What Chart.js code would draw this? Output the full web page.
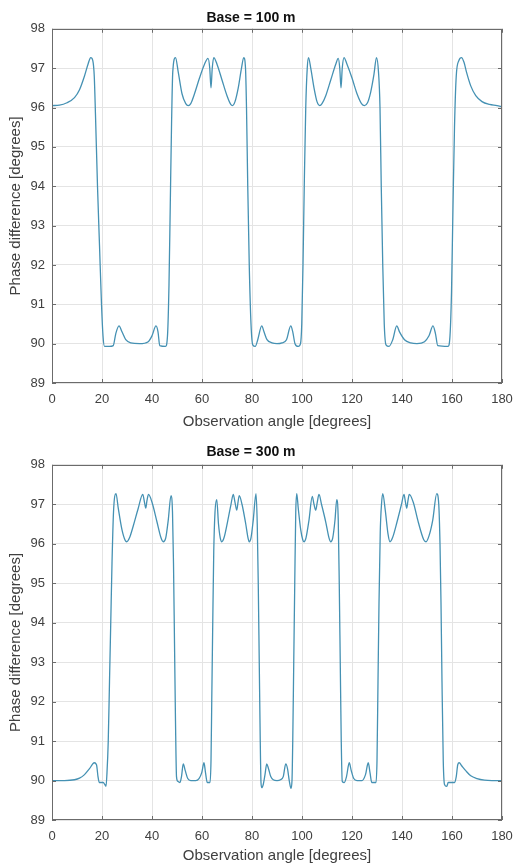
<!DOCTYPE html>
<html>
<head>
<meta charset="utf-8">
<title>Phase difference vs observation angle</title>
<script src="https://cdn.jsdelivr.net/npm/chart.js@4/dist/chart.umd.min.js"></script>
<style>
  html, body { margin: 0; padding: 0; background: #fff; }
  #wrap { position: relative; width: 514px; height: 865px; overflow: hidden; }
  .panel { position: absolute; left: 0; width: 514px; }
  #p1 { top: 0; height: 432px; }
  #p2 { top: 432px; height: 433px; }
</style>
</head>
<body>
<div id="wrap">
  <div class="panel" id="p1"><canvas id="chart100" width="514" height="432"></canvas></div>
  <div class="panel" id="p2"><canvas id="chart300" width="514" height="433"></canvas></div>
</div>
<script>
// Base = 100 m  (angle in degrees, phase difference in degrees)
const angle100 = [0, 3, 6, 9, 11, 13, 14.5, 15.5, 16.3, 16.9, 17.4, 18.2, 19.0, 19.8, 20.4, 21, 23, 24.5, 25.5, 26.8,
  28, 29.5, 31.5, 35, 38.5, 40, 41.6, 42.4, 43.1, 45.4, 46.2, 46.8, 47.3, 47.8, 48.3, 49.4, 50.5, 52, 53.5, 54.5,
  55.5, 57, 59, 61, 62.4, 63.1, 63.6, 64.1, 64.7, 66, 68, 70, 71.5, 72.2, 73.2, 74.5, 75.8, 76.7, 77.4, 77.8,
  78.3, 78.9, 79.6, 80.3, 81.3, 82.3, 83.9, 84.8, 86, 88, 90, 92, 93.8, 95.5, 96.3, 97.2, 98.5, 99.4, 99.9, 100.4,
  100.9, 101.5, 102.1, 102.6, 103.5, 104.8, 106, 107.1, 108, 109.5, 111.5, 113.5, 114.5, 115.1, 115.6, 116.1, 116.8, 118, 120, 122,
  123.8, 125, 126.2, 127.5, 128.8, 129.8, 130.6, 131.2, 131.7, 132.3, 132.9, 133.6, 134.8, 136.3, 137.9, 139, 141, 143.5, 146, 149,
  150.8, 152.4, 153.4, 154.3, 158.4, 159.2, 159.8, 160.4, 161.0, 161.7, 162.8, 163.8, 164.8, 165.8, 167.5, 169.5, 172, 175, 178, 180];
const phase100 = [96.05, 96.06, 96.12, 96.25, 96.45, 96.8, 97.12, 97.27, 97.2, 96.8, 95.8, 94.0, 92.5, 91.0, 90.2, 89.93, 89.93, 89.95, 90.25, 90.45,
  90.3, 90.1, 90.02, 90.0, 90.05, 90.2, 90.45, 90.3, 89.95, 89.93, 90.2, 91.5, 93.5, 95.5, 96.9, 97.27, 96.9, 96.35, 96.1, 96.05,
  96.1, 96.35, 96.75, 97.1, 97.25, 97.0, 96.5, 97.0, 97.27, 97.1, 96.7, 96.3, 96.08, 96.05, 96.15, 96.5, 97.0, 97.27, 97.0, 96.0,
  94.0, 92.0, 90.5, 89.97, 89.93, 90.1, 90.45, 90.3, 90.1, 90.02, 90.0, 90.02, 90.1, 90.45, 90.3, 90.0, 89.93, 90.0, 90.5, 92.0,
  94.0, 96.0, 97.0, 97.27, 97.0, 96.5, 96.15, 96.05, 96.1, 96.3, 96.7, 97.1, 97.25, 97.0, 96.5, 97.0, 97.27, 97.1, 96.75, 96.35,
  96.1, 96.05, 96.12, 96.4, 96.85, 97.27, 96.9, 96.0, 94.0, 92.0, 90.5, 89.97, 89.93, 90.1, 90.45, 90.3, 90.1, 90.02, 90.0, 90.05,
  90.2, 90.45, 90.25, 89.95, 89.93, 90.2, 91.3, 93.5, 95.5, 96.8, 97.2, 97.27, 97.15, 96.9, 96.55, 96.3, 96.15, 96.08, 96.05, 96.02];

// Base = 300 m
const angle300 = [0, 5, 9, 11, 13, 15, 16.9, 17.8, 18.4, 18.9, 20.5, 21.1, 21.6, 22.0, 22.5, 23.0, 23.5, 24.0, 24.6, 25.6,
  26.5, 28, 29.3, 29.9, 31, 32.5, 34.5, 36.3, 37.0, 37.5, 38.0, 38.6, 40, 42, 43.6, 44.5, 45.5, 46.5, 47.6, 48.2,
  48.6, 49.0, 49.4, 49.8, 50.3, 51.2, 51.8, 52.5, 53.3, 54.3, 55.5, 57.5, 58.8, 59.9, 60.8, 61.4, 62.1, 63.2, 63.6, 63.9,
  64.3, 64.7, 65.2, 65.9, 66.6, 67.3, 67.9, 68.8, 70.2, 71.6, 72.5, 73.2, 73.9, 74.4, 74.9, 76, 77.5, 78.4, 78.9, 79.6,
  80.5, 81.6, 82.1, 82.5, 82.9, 83.3, 83.6, 83.9, 84.5, 85.2, 85.9, 86.6, 87.5, 88.5, 90, 91.4, 92.5, 93.5, 94.2, 94.9,
  95.6, 96.0, 96.3, 96.7, 97.1, 97.5, 97.9, 98.5, 99.5, 100.3, 100.8, 101.6, 102.8, 104.1, 104.8, 105.5, 106.1, 106.8, 107.8, 109.5,
  110.8, 111.5, 112.3, 113.2, 113.9, 114.5, 114.9, 115.3, 115.7, 116.1, 116.9, 117.8, 118.9, 119.7, 120.7, 122, 124, 125.4, 126.5, 127.2,
  127.9, 129.6, 130.0, 130.4, 130.8, 131.3, 131.8, 132.3, 133.3, 134.4, 135.2, 136.2, 138, 139.8, 140.8, 141.4, 141.9, 142.4, 142.9, 144.5,
  146.5, 148.7, 149.6, 150.8, 152.3, 153.9, 154.7, 155.2, 155.6, 156.0, 156.5, 157.0, 157.9, 158.5, 161.0, 161.7, 162.3, 162.9, 163.8, 165.5,
  167.5, 170, 173, 176, 180];
const phase300 = [90.0, 90.0, 90.02, 90.06, 90.15, 90.3, 90.45, 90.4, 90.1, 89.95, 89.95, 89.9, 89.85, 90.2, 91.0, 92.5, 94.0, 95.5, 96.8, 97.27,
  96.9, 96.35, 96.08, 96.05, 96.15, 96.45, 96.9, 97.25, 97.05, 96.9, 97.1, 97.25, 97.05, 96.55, 96.15, 96.05, 96.15, 96.6, 97.22, 96.8,
  95.5, 93.5, 91.5, 90.1, 89.98, 89.95, 90.1, 90.42, 90.25, 90.05, 90.0, 90.0, 90.05, 90.2, 90.45, 90.2, 89.95, 89.95, 90.5, 92.0,
  94.0, 95.8, 96.8, 97.12, 96.5, 96.15, 96.05, 96.15, 96.55, 97.0, 97.25, 97.05, 96.85, 97.05, 97.22, 97.0, 96.5, 96.15, 96.05, 96.15,
  96.6, 97.27, 96.5, 95.0, 93.0, 91.0, 89.95, 89.82, 89.9, 90.15, 90.42, 90.3, 90.1, 90.02, 90.0, 90.02, 90.1, 90.42, 90.3, 90.0,
  89.8, 90.0, 91.0, 93.0, 95.0, 96.8, 97.27, 96.9, 96.35, 96.1, 96.05, 96.15, 96.6, 97.2, 97.0, 96.85, 97.05, 97.25, 97.0, 96.55,
  96.15, 96.05, 96.15, 96.6, 97.12, 96.6, 95.0, 93.0, 91.0, 89.98, 89.95, 90.1, 90.45, 90.25, 90.05, 90.0, 90.0, 90.15, 90.45, 90.2,
  89.95, 89.95, 90.5, 92.5, 94.5, 96.3, 97.0, 97.27, 96.85, 96.25, 96.05, 96.15, 96.55, 97.0, 97.25, 97.05, 96.9, 97.1, 97.25, 97.05,
  96.55, 96.1, 96.05, 96.2, 96.6, 97.27, 97.0, 96.0, 94.5, 92.5, 90.5, 89.9, 89.85, 89.95, 89.95, 90.1, 90.4, 90.45, 90.38, 90.25,
  90.12, 90.05, 90.01, 90.0, 90.0];

const xTicks = [0, 20, 40, 60, 80, 100, 120, 140, 160, 180];
const yTicks = [89, 90, 91, 92, 93, 94, 95, 96, 97, 98];

const lineColor = '#4591b3';
const axisColor = '#6b6b6b';
const gridColor = '#e4e4e4';
const textColor = '#404040';

Chart.defaults.font.family = "'Liberation Sans', Arial, Helvetica, sans-serif";
Chart.defaults.color = textColor;

// matlab style box with inward ticks on all four sides
const boxPlugin = {
    id: 'matlabBox',
    afterDraw(chart) {
        const { ctx, chartArea: a, scales } = chart;
        const len = 4;
        ctx.save();
        ctx.strokeStyle = axisColor;
        ctx.lineWidth = 1;
        ctx.strokeRect(Math.round(a.left) + 0.5, Math.round(a.top) + 0.5,
            Math.round(a.right - a.left) - 1, Math.round(a.bottom - a.top) - 1);
        ctx.beginPath();
        xTicks.forEach(v => {
            const px = Math.round(scales.x.getPixelForValue(v)) + 0.5;
            ctx.moveTo(px, a.bottom); ctx.lineTo(px, a.bottom - len);
            ctx.moveTo(px, a.top); ctx.lineTo(px, a.top + len);
        });
        yTicks.forEach(v => {
            const py = Math.round(scales.y.getPixelForValue(v)) + 0.5;
            ctx.moveTo(a.left, py); ctx.lineTo(a.left + len, py);
            ctx.moveTo(a.right, py); ctx.lineTo(a.right - len, py);
        });
        ctx.stroke();
        ctx.restore();
    }
};

function makePhaseChart(id, title, angles, phases, titlePad, xHeight, xTitleBottom) {
    const points = angles.map((a, i) => ({ x: a, y: phases[i] }));
    return new Chart(document.getElementById(id), {
        type: 'line',
        data: {
            datasets: [{
                data: points,
                borderColor: lineColor,
                borderWidth: 1.3,
                pointRadius: 0,
                fill: false,
                cubicInterpolationMode: 'monotone'
            }]
        },
        options: {
            responsive: false,
            animation: false,
            layout: { padding: { left: 0, right: 12, top: 0, bottom: 0 } },
            plugins: {
                legend: { display: false },
                tooltip: { enabled: false },
                title: {
                    display: true,
                    text: title,
                    color: '#111',
                    font: { size: 14, weight: 'bold' },
                    padding: titlePad
                }
            },
            scales: {
                x: {
                    type: 'linear',
                    min: 0,
                    max: 180,
                    afterBuildTicks: s => { s.ticks = xTicks.map(v => ({ value: v })); },
                    afterFit: s => { s.height = xHeight; s.paddingRight = 0; s.paddingLeft = 0; },
                    grid: { color: gridColor, drawTicks: false },
                    border: { display: false },
                    ticks: { padding: 9, font: { size: 13 }, color: textColor },
                    title: {
                        display: true,
                        text: 'Observation angle [degrees]',
                        font: { size: 15 },
                        color: textColor,
                        padding: { top: 0, bottom: xTitleBottom }
                    }
                },
                y: {
                    min: 89,
                    max: 98,
                    afterBuildTicks: s => { s.ticks = yTicks.map(v => ({ value: v })); },
                    afterFit: s => { s.width = 52; },
                    grid: { color: gridColor, drawTicks: false },
                    border: { display: false },
                    ticks: { padding: 7, font: { size: 13 }, color: textColor },
                    title: {
                        display: true,
                        text: 'Phase difference [degrees]',
                        font: { size: 15 },
                        color: textColor,
                        padding: { top: 7, bottom: 0 }
                    }
                }
            }
        },
        plugins: [boxPlugin]
    });
}

makePhaseChart('chart100', 'Base = 100 m', angle100, phase100, { top: 10, bottom: 2 }, 49, 1);
makePhaseChart('chart300', 'Base = 300 m', angle300, phase300, { top: 12, bottom: 4 }, 45, 0);
</script>
</body>
</html>
